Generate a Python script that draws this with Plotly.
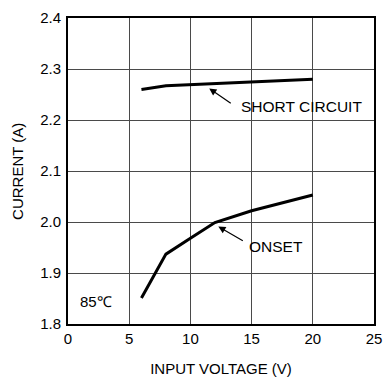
import plotly.graph_objects as go

# short circuit current vs input voltage
short_x = [6, 8, 20]
short_y = [2.260, 2.267, 2.280]

# onset current vs input voltage
onset_x = [6, 8, 10, 12, 15, 20]
onset_y = [1.851, 1.937, 1.968, 1.999, 2.022, 2.053]

x_ticks = [0, 5, 10, 15, 20, 25]
y_ticks = [1.8, 1.9, 2.0, 2.1, 2.2, 2.3, 2.4]

FONT = "Liberation Sans, Arial, sans-serif"
GRID = "#4a4a4a"

fig = go.Figure()

fig.add_trace(go.Scatter(x=short_x, y=short_y, mode="lines",
                         line=dict(color="black", width=3)))
fig.add_trace(go.Scatter(x=onset_x, y=onset_y, mode="lines",
                         line=dict(color="black", width=3)))

# arrows (no text, label placed separately)
fig.add_annotation(x=11.54, y=2.262, ax=23, ay=16, text="",
                   showarrow=True, arrowhead=2, arrowsize=1.2, arrowwidth=1.2,
                   arrowcolor="black")
fig.add_annotation(x=12.28, y=1.991, ax=26, ay=15, text="",
                   showarrow=True, arrowhead=2, arrowsize=1.2, arrowwidth=1.2,
                   arrowcolor="black")

fig.add_annotation(x=14.0, y=2.226, text="SHORT CIRCUIT", showarrow=False,
                   xanchor="left", yanchor="middle", font=dict(size=15.5))
fig.add_annotation(x=14.6, y=1.952, text="ONSET", showarrow=False,
                   xanchor="left", yanchor="middle", font=dict(size=15.5))
fig.add_annotation(x=0.82, y=1.845, text="85℃", showarrow=False,
                   xanchor="left", yanchor="middle", font=dict(size=15))

# y axis title
fig.add_annotation(x=-0.167, xref="paper", y=0.5, yref="paper",
                   xanchor="center", yanchor="middle",
                   text="CURRENT (A)", textangle=-90, showarrow=False,
                   font=dict(size=15))

fig.update_xaxes(range=[0, 25], tickvals=x_ticks, showgrid=True,
                 gridcolor=GRID, gridwidth=1, zeroline=False,
                 showline=True, linecolor="black", linewidth=2, mirror=True,
                 ticks="", ticklabelstandoff=0, automargin=False,
                 title=dict(text="INPUT VOLTAGE (V)", standoff=17,
                            font=dict(size=15)))
fig.update_yaxes(range=[1.8, 2.4], tickvals=y_ticks, tickformat=".1f",
                 showgrid=True, gridcolor=GRID, gridwidth=1, zeroline=False,
                 showline=True, linecolor="black", linewidth=2, mirror=True,
                 ticks="", ticklabelstandoff=2, automargin=False)

fig.update_layout(
    width=385, height=377,
    margin=dict(l=68, r=11, t=18, b=53),
    plot_bgcolor="white", paper_bgcolor="white",
    showlegend=False,
    font=dict(family=FONT, size=15, color="black"),
)

# page body has a default 8px margin, drop it so the figure fills the window
fig.write_html("out.html", config={"displayModeBar": False},
               post_script="document.body.style.margin='0';"
                           "document.body.style.overflow='hidden';")
